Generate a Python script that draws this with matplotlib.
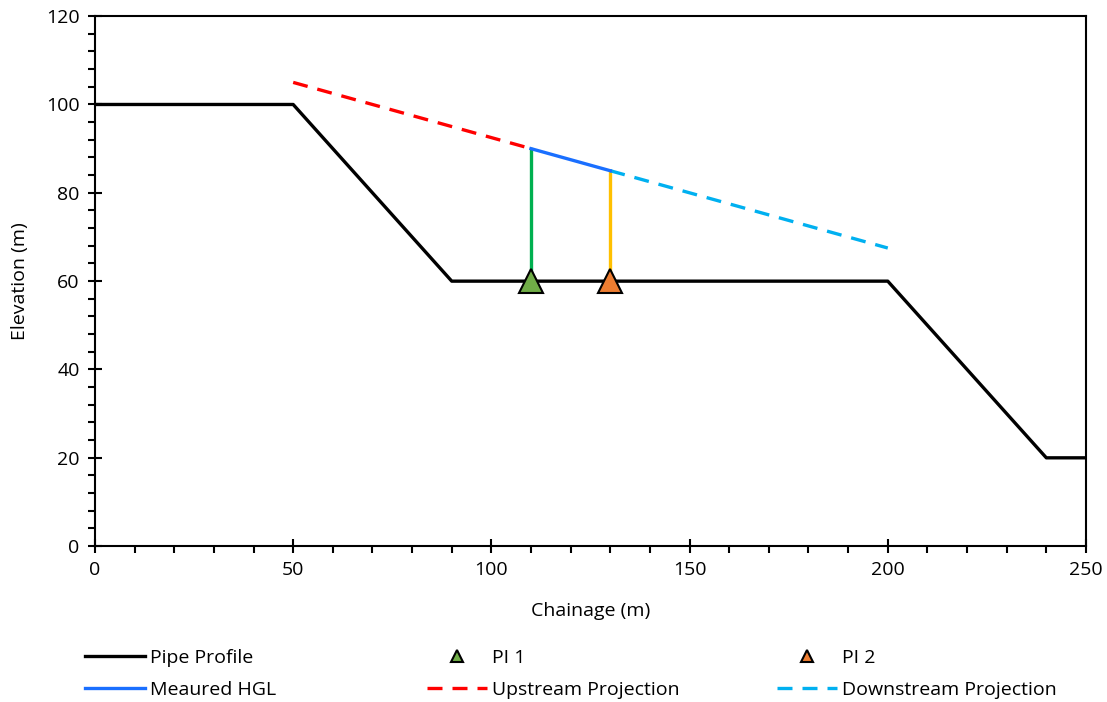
import matplotlib
matplotlib.use("Agg")
import matplotlib.pyplot as plt
from matplotlib.ticker import MultipleLocator

plt.rcParams['font.family'] = ['Open Sans', 'DejaVu Sans']

# Perfil de la tubería
pipe_x = [0, 50, 90, 200, 240, 250]
pipe_y = [100, 100, 60, 60, 20, 20]

# Línea piezométrica medida y proyecciones
hgl_x = [110, 130]
hgl_y = [90, 85]
up_x = [50, 110]
up_y = [105, 90]
down_x = [130, 200]
down_y = [85, 67.5]

# Piezómetros
pi1_x, pi1_base, pi1_top = 110, 60, 90
pi2_x, pi2_base, pi2_top = 130, 60, 85

fig = plt.figure(figsize=(11.07, 7.02), dpi=100)
ax = fig.add_axes([0.0858, 0.222, 0.8952, 0.755])

ax.plot([pi1_x, pi1_x], [pi1_base, pi1_top], color="#00B050", lw=2.4, zorder=2)
ax.plot([pi2_x, pi2_x], [pi2_base, pi2_top], color="#FFC000", lw=2.4, zorder=2)

l_pipe, = ax.plot(pipe_x, pipe_y, color="black", lw=2.4, label="Pipe Profile", zorder=3)
l_up, = ax.plot(up_x, up_y, color="#FF0000", lw=2.4, dashes=(4.5, 3), label="Upstream Projection", zorder=3)
l_down, = ax.plot(down_x, down_y, color="#00B0F0", lw=2.4, dashes=(4.5, 3), label="Downstream Projection", zorder=3)
l_hgl, = ax.plot(hgl_x, hgl_y, color="#1A6FFF", lw=2.4, label="Meaured HGL", zorder=3)

m1, = ax.plot([pi1_x], [pi1_base], linestyle="none", marker="^", markersize=17,
              markerfacecolor="#70AD47", markeredgecolor="black", markeredgewidth=1.5,
              label="PI 1", zorder=4)
m2, = ax.plot([pi2_x], [pi2_base], linestyle="none", marker="^", markersize=17,
              markerfacecolor="#ED7D31", markeredgecolor="black", markeredgewidth=1.5,
              label="PI 2", zorder=4)

ax.set_xlim(0, 250)
ax.set_ylim(0, 120)
ax.xaxis.set_major_locator(MultipleLocator(50))
ax.xaxis.set_minor_locator(MultipleLocator(10))
ax.yaxis.set_major_locator(MultipleLocator(20))
ax.yaxis.set_minor_locator(MultipleLocator(4))
ax.tick_params(which="major", direction="inout", length=10, width=1.5, labelsize=14, pad=6)
ax.tick_params(which="minor", direction="out", length=5, width=1.5)
for s in ax.spines.values():
    s.set_linewidth(1.5)

ax.set_xlabel("Chainage (m)", fontsize=14, labelpad=16)
ax.set_ylabel("Elevation (m)", fontsize=14, labelpad=12)

# Leyenda: una por columna para controlar la posición de cada una
columns = [(0.0768, [l_pipe, l_hgl]), (0.3857, [m1, l_up]), (0.7019, [m2, l_down])]
for x0, hs in columns:
    leg = fig.legend(handles=hs, loc="upper left", bbox_to_anchor=(x0, 0.076),
                     frameon=False, fontsize=14, handlelength=3.1, handletextpad=0.25,
                     labelspacing=0.75, borderpad=0, borderaxespad=0)
    for h in leg.legend_handles:
        if h.get_marker() not in (None, "None", ""):
            h.set_markersize(8)

fig.savefig("out.png", dpi=100)
